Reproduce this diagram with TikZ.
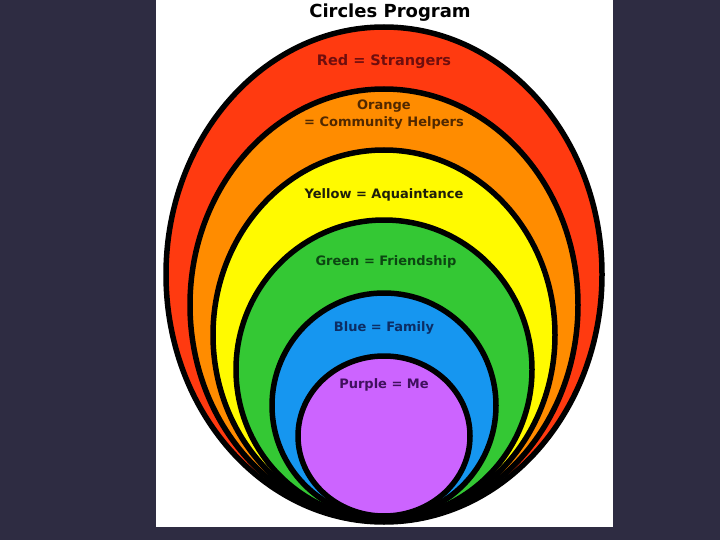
\documentclass[tikz,border=0pt]{standalone}
\usepackage{fontspec}
\setmainfont{DejaVu Sans}
\usepackage{tikz}

\definecolor{slate}{RGB}{46,44,66}
\definecolor{redband}{RGB}{255,58,16}
\definecolor{orangeband}{RGB}{255,140,0}
\definecolor{yellowband}{RGB}{255,250,0}
\definecolor{greenband}{RGB}{52,200,52}
\definecolor{blueband}{RGB}{22,150,240}
\definecolor{purpleband}{RGB}{204,100,255}
\definecolor{redtext}{RGB}{110,14,14}
\definecolor{orangetext}{RGB}{80,40,0}
\definecolor{yellowtext}{RGB}{30,30,10}
\definecolor{greentext}{RGB}{12,70,18}
\definecolor{bluetext}{RGB}{12,45,100}
\definecolor{purpletext}{RGB}{64,16,94}

\begin{document}
\begin{tikzpicture}[x=1pt,y=-1pt,line width=5.5pt,
    band/.style={draw=black,line join=round},
    bandlabel/.style={font=\fontsize{13}{17}\selectfont\bfseries,align=center,inner sep=0pt}]
  \useasboundingbox (0,0) rectangle (720,540);
  \fill[slate] (0,0) rectangle (720,540);
  \fill[white] (156,0) rectangle (613,527);

  % the rings, outside in
  \filldraw[band,fill=redband]    (384,274.5) ellipse [x radius=218, y radius=247.5];
  \filldraw[band,fill=orangeband] (384,305)   ellipse [x radius=194, y radius=216];
  \filldraw[band,fill=yellowband] (384,335)   ellipse [x radius=171, y radius=185];
  \filldraw[band,fill=greenband]  (384,369.5) ellipse [x radius=148, y radius=149.5];
  \filldraw[band,fill=blueband]   (384,405.5) ellipse [x radius=112, y radius=112.5];
  \filldraw[band,fill=purpleband] (384,436)   ellipse [x radius=86,  y radius=80];

  \node (title) at (390,13)
    {\fontsize{18}{20}\selectfont\bfseries Circles Program};
  \node[bandlabel,text=redtext,font=\fontsize{14.5}{17}\selectfont\bfseries]
    (red) at (384,62) {Red = Strangers};
  \node[bandlabel,text=orangetext] (orange) at (384,115) {Orange\\= Community Helpers};
  \node[bandlabel,text=yellowtext] (yellow) at (384,195) {Yellow = Aquaintance};
  \node[bandlabel,text=greentext]  (green)  at (386,262) {Green = Friendship};
  \node[bandlabel,text=bluetext]   (blue)   at (384,328) {Blue = Family};
  \node[bandlabel,text=purpletext] (purple) at (384,385) {Purple = Me};
\end{tikzpicture}
\end{document}
